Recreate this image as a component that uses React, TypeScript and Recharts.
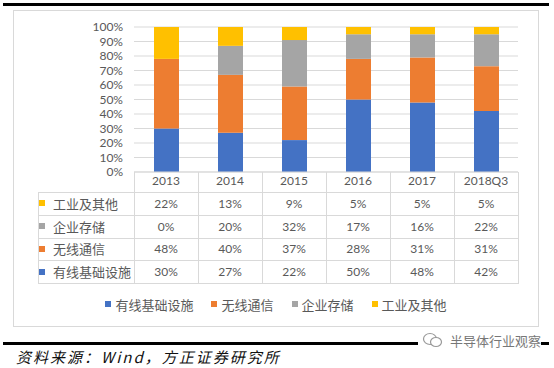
import React from 'react';
import { BarChart, Bar, XAxis, YAxis, CartesianGrid } from 'recharts';

const years = ['2013', '2014', '2015', '2016', '2017', '2018Q3'];
const wired = [30, 27, 22, 50, 48, 42];
const wireless = [48, 40, 37, 28, 31, 31];
const enterprise = [0, 20, 32, 17, 16, 22];
const industrial = [22, 13, 9, 5, 5, 5];
const yTicks = [0, 10, 20, 30, 40, 50, 60, 70, 80, 90, 100];

const series = [
  { key: 'wired', name: '有线基础设施', color: '#4472C4', values: wired },
  { key: 'wireless', name: '无线通信', color: '#ED7D31', values: wireless },
  { key: 'enterprise', name: '企业存储', color: '#A5A5A5', values: enterprise },
  { key: 'industrial', name: '工业及其他', color: '#FFC000', values: industrial },
];

const data = years.map((year, i) => {
  const row: Record<string, string | number> = { year };
  series.forEach(s => { row[s.key] = s.values[i]; });
  return row;
});

const NUM_FONT = 'Lato, "Open Sans", sans-serif';
const CJK_FONT = '"Noto Sans CJK SC", sans-serif';
const LINE = '#d9d9d9';

// plot geometry
const PLOT_LEFT = 134;
const PLOT_RIGHT = 518;
const PLOT_TOP = 27;
const PLOT_BOTTOM = 172;
const COL_W = (PLOT_RIGHT - PLOT_LEFT) / years.length;
const TABLE_LEFT = 38;
const TABLE_TOP = 192;
const TABLE_BOTTOM = 283;

export default function App() {
  const tableRows = [...series].reverse();
  const rowH = (TABLE_BOTTOM - TABLE_TOP) / tableRows.length;
  const lines: React.ReactNode[] = [];
  for (let i = 0; i <= years.length; i++) {
    const x = PLOT_LEFT + i * COL_W;
    lines.push(<div key={'v' + i} style={{ position: 'absolute', left: x, top: PLOT_BOTTOM, width: 1, height: TABLE_BOTTOM - PLOT_BOTTOM, background: LINE }} />);
  }
  lines.push(<div key="vl" style={{ position: 'absolute', left: TABLE_LEFT, top: TABLE_TOP, width: 1, height: TABLE_BOTTOM - TABLE_TOP, background: LINE }} />);
  for (let r = 0; r <= tableRows.length; r++) {
    const y = Math.round(TABLE_TOP + r * rowH);
    lines.push(<div key={'h' + r} style={{ position: 'absolute', left: TABLE_LEFT, top: y, width: PLOT_RIGHT - TABLE_LEFT + 1, height: 1, background: LINE }} />);
  }

  return (
    <div style={{ position: 'absolute', left: 0, top: 0, width: 554, height: 368, background: '#fff', overflow: 'hidden' }}>
      <div style={{ position: 'absolute', left: 3, top: 3, width: 546, height: 3, background: '#000' }} />
      <div style={{ position: 'absolute', left: 13, top: 10, width: 524, height: 315, border: `1px solid ${LINE}` }} />
      <div style={{ position: 'absolute', left: 0, top: 0 }}>
        <BarChart
          width={554}
          height={368}
          data={data}
          margin={{ top: PLOT_TOP, right: 554 - PLOT_RIGHT, left: 0, bottom: 368 - PLOT_BOTTOM - 20 }}
          barSize={25}
        >
          <CartesianGrid vertical={false} stroke={LINE} />
          <XAxis
            dataKey="year"
            height={20}
            tickLine={false}
            tickSize={0}
            tickMargin={4}
            axisLine={{ stroke: LINE }}
            tick={{ fill: '#595959', fontSize: 12, fontFamily: NUM_FONT }}
            interval={0}
          />
          <YAxis
            width={PLOT_LEFT}
            domain={[0, 100]}
            ticks={yTicks}
            tickFormatter={(v: number) => `${v}%`}
            axisLine={false}
            tickLine={false}
            tickSize={0}
            tickMargin={11}
            tick={{ fill: '#595959', fontSize: 12, fontFamily: NUM_FONT }}
            interval={0}
          />
          {series.map(s => (
            <Bar key={s.key} dataKey={s.key} name={s.name} stackId="a" fill={s.color} isAnimationActive={false} />
          ))}
        </BarChart>
      </div>
      {lines}
      {tableRows.map((s, r) => {
        const top = TABLE_TOP + r * rowH;
        return (
          <React.Fragment key={s.key}>
            <div style={{ position: 'absolute', left: TABLE_LEFT + 1, top, height: rowH, display: 'flex', alignItems: 'center', fontFamily: CJK_FONT, fontSize: 13, color: '#595959' }}>
              <span style={{ width: 6, height: 6, background: s.color, marginRight: 8, display: 'inline-block' }} />
              <span>{s.name}</span>
            </div>
            {s.values.map((v, i) => (
              <div key={i} style={{ position: 'absolute', left: PLOT_LEFT + i * COL_W, top, width: COL_W, height: rowH, display: 'flex', alignItems: 'center', justifyContent: 'center', fontFamily: NUM_FONT, fontSize: 12, color: '#595959' }}>
                {v}%
              </div>
            ))}
          </React.Fragment>
        );
      })}
      <div style={{ position: 'absolute', left: 13, width: 526, top: 294, height: 20, display: 'flex', justifyContent: 'center', alignItems: 'center', gap: 18, fontFamily: CJK_FONT, fontSize: 13, color: '#595959' }}>
        {series.map(s => (
          <div key={s.key} style={{ display: 'flex', alignItems: 'center' }}>
            <span style={{ width: 6, height: 6, background: s.color, marginRight: 4, display: 'inline-block' }} />
            <span>{s.name}</span>
          </div>
        ))}
      </div>
      <div style={{ position: 'absolute', left: 3, top: 342, width: 546, height: 3, background: '#000' }} />
      <div style={{ position: 'absolute', left: 418, top: 331, height: 18, display: 'flex', alignItems: 'center', background: '#fff', paddingLeft: 4 }}>
        <svg width="22" height="16" style={{ marginRight: 6 }}>
          <ellipse cx="8" cy="7" rx="6.5" ry="5.5" fill="none" stroke="#999" strokeWidth="1.2" />
          <ellipse cx="14" cy="10" rx="5.5" ry="4.5" fill="#fff" stroke="#999" strokeWidth="1.2" />
        </svg>
        <span style={{ fontFamily: CJK_FONT, fontSize: 13, color: '#777' }}>半导体行业观察</span>
      </div>
      <div style={{ position: 'absolute', left: 16, top: 348, lineHeight: '18px', fontFamily: CJK_FONT, fontStyle: 'italic', fontSize: 15, letterSpacing: 2, color: '#111', whiteSpace: 'nowrap' }}>
        资料来源：Wind，方正证券研究所
      </div>
    </div>
  );
}
